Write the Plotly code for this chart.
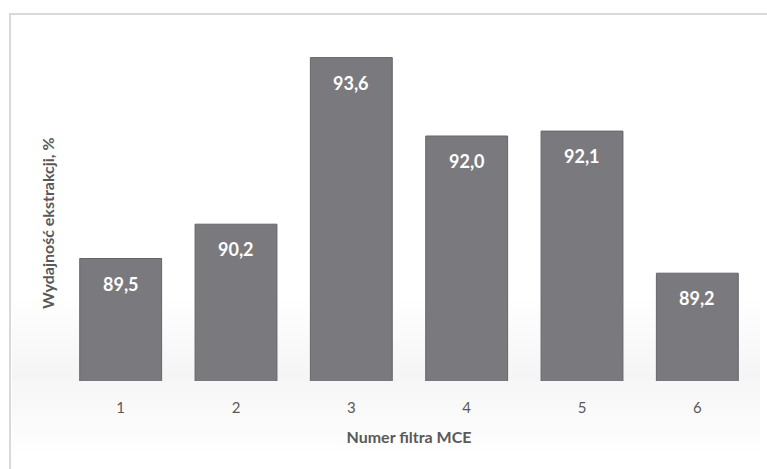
import plotly.graph_objects as go

categories = ["1", "2", "3", "4", "5", "6"]
values = [89.5, 90.2, 93.6, 92.0, 92.1, 89.2]
labels = ["89,5", "90,2", "93,6", "92,0", "92,1", "89,2"]

x_title = "Numer filtra MCE"
y_title = "Wydajność ekstrakcji, %"

W, H = 767, 469
L, R, T, B = 63, 12, 38, 88
pw = W - L - R
ph = H - T - B

def px_x(x):
    return (x - L) / pw

def px_y(y):
    return (H - B - y) / ph

fig = go.Figure()
fig.add_trace(go.Bar(
    x=categories, y=values,
    marker=dict(color="#7a7a7e", line=dict(color="#66666a", width=1)),
    width=0.71,
    hoverinfo="skip",
))

# category axis: annotations positioned by category index
for i, (v, t) in enumerate(zip(values, labels)):
    fig.add_annotation(x=i, y=v, text="<b>%s</b>" % t, showarrow=False,
                       yshift=-25, font=dict(family="Lato", size=18, color="white"))

shapes = []
n = 10
for i in range(n):
    y0 = H - B - (i + 1) * 8
    shapes.append(dict(type="rect", xref="paper", yref="paper", layer="below",
                       x0=px_x(12), x1=px_x(760), y0=px_y(H - B), y1=px_y(y0),
                       fillcolor="rgba(140,140,140,0.009)", line=dict(width=0)))
for i in range(8):
    y1 = H - B + (i + 1) * 9
    shapes.append(dict(type="rect", xref="paper", yref="paper", layer="below",
                       x0=px_x(12), x1=px_x(760), y0=px_y(H - B), y1=px_y(y1),
                       fillcolor="rgba(140,140,140,0.008)", line=dict(width=0)))
shapes.append(dict(type="rect", xref="paper", yref="paper", layer="below",
                   x0=px_x(10), x1=px_x(780), y0=px_y(14), y1=px_y(500),
                   fillcolor="rgba(0,0,0,0)", line=dict(color="#d9d9d9", width=2)))

fig.add_annotation(xref="paper", yref="paper", x=px_x(47), y=px_y(223),
                   xanchor="center", yanchor="middle",
                   text="<b>%s</b>" % y_title, textangle=-90, showarrow=False,
                   font=dict(family="Lato", size=16, color="#595959"))

fig.update_layout(
    width=W, height=H,
    margin=dict(l=L, r=R, t=T, b=B),
    paper_bgcolor="white", plot_bgcolor="rgba(0,0,0,0)",
    showlegend=False,
    shapes=shapes,
    xaxis=dict(type="category", range=[-0.5, 5.5], showgrid=False, showline=False,
               zeroline=False,
               tickfont=dict(family="Lato", size=15, color="#595959"),
               ticks="", ticklabelstandoff=16,
               title=dict(text="<b>%s</b>" % x_title, standoff=16,
                          font=dict(family="Lato", size=16, color="#595959"))),
    yaxis=dict(range=[87, 94], visible=False),
)

fig.write_html("out.html")
